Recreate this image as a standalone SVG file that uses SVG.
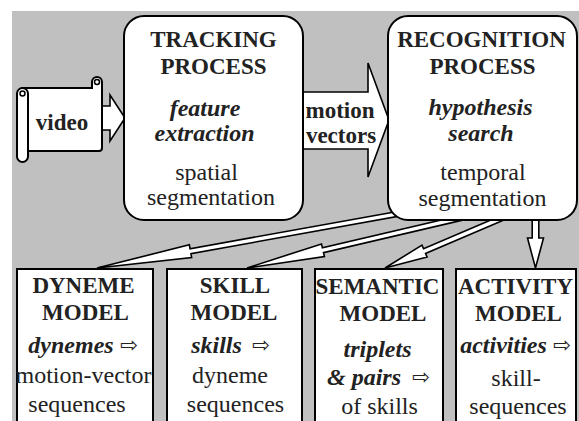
<svg xmlns="http://www.w3.org/2000/svg" width="579" height="421" viewBox="0 0 579 421">
<rect fill="#c0c0c0" x="12" y="11" width="567" height="410"/>
<g id="connectors">
<g fill="#fff" stroke="#000" stroke-width="1.6">
<polygon points="102,106 110,106 110,95 125,118 110,141 110,130 102,130"/>
<polygon points="303,92 368,92 368,63 389,120 368,177 368,149 303,149"/>
<polygon points="401.4,210.7 190.06,248.74 189.35,244.8 97,268 191.65,257.6 190.94,253.66 402.3,215.6"/>
<polygon points="466.9,214 322.38,247.81 321.47,243.91 247,268 324.43,256.57 323.52,252.67 468.1,218.8"/>
<polygon points="507.8,212.8 423.56,248.8 421.99,245.12 385,268 427.09,257.08 425.52,253.4 509.8,217.4"/>
<polygon points="532.2,210 532.2,238 527.5,238 535.5,268 543.5,238 538.8,238 538.8,210"/>
</g>
<g font-family="Liberation Serif, serif" fill="#222" text-anchor="middle" font-weight="bold" font-size="23">
<text x="340" y="118">motion</text>
<text x="341" y="143">vectors</text>
</g>
</g>
<g id="video">
<g fill="#fff" stroke="#000" stroke-width="2">
<path d="M22,88 H92 V82 A5,5 0 0 1 102,82 V148 Q102,151 99,151 H22 Z"/>
<circle cx="97" cy="82" r="2.5" fill="none" stroke-width="1.5"/>
<rect x="17" y="88" width="11" height="74" rx="5.5"/>
<circle cx="22.5" cy="93.5" r="2.5" fill="none" stroke-width="1.5"/>
</g>
<text font-family="Liberation Serif, serif" fill="#222" text-anchor="middle" font-weight="bold" font-size="23" x="62" y="130">video</text>
</g>
<g id="tracking" font-family="Liberation Serif, serif" fill="#222" text-anchor="middle">
<rect fill="#fff" stroke="#000" stroke-width="2" x="124" y="16" width="179" height="204" rx="20"/>
<text font-weight="bold" font-size="23" x="213.5" y="47">TRACKING</text>
<text font-weight="bold" font-size="23" x="213.5" y="74">PROCESS</text>
<text font-weight="bold" font-style="italic" font-size="24" x="205" y="116">feature</text>
<text font-weight="bold" font-style="italic" font-size="24" x="204.5" y="141">extraction</text>
<text font-size="24" x="206.5" y="180">spatial</text>
<text font-size="24" x="211" y="205">segmentation</text>
</g>
<g id="recognition" font-family="Liberation Serif, serif" fill="#222" text-anchor="middle">
<rect fill="#fff" stroke="#000" stroke-width="2" x="388" y="16" width="189" height="204" rx="20"/>
<text font-weight="bold" font-size="23" x="481.5" y="47">RECOGNITION</text>
<text font-weight="bold" font-size="23" x="482.5" y="74">PROCESS</text>
<text font-weight="bold" font-style="italic" font-size="24" x="480.5" y="115">hypothesis</text>
<text font-weight="bold" font-style="italic" font-size="24" x="481" y="141">search</text>
<text font-size="24" x="483" y="180">temporal</text>
<text font-size="24" x="482.5" y="206">segmentation</text>
</g>
<g id="dyneme" font-family="Liberation Serif, serif" fill="#222" text-anchor="middle">
<rect fill="#fff" stroke="#000" stroke-width="2" x="17" y="269" width="136" height="170"/>
<text font-weight="bold" font-size="23" x="83.5" y="293">DYNEME</text>
<text font-weight="bold" font-size="23" x="85.5" y="320">MODEL</text>
<text font-weight="bold" font-style="italic" font-size="24" x="71" y="353">dynemes</text>
<text font-family="DejaVu Sans, sans-serif" font-size="21" text-anchor="start" x="120" y="352">⇨</text>
<text font-size="24" x="83.5" y="383">motion-vector</text>
<text font-size="24" x="77" y="412">sequences</text>
</g>
<g id="skill" font-family="Liberation Serif, serif" fill="#222" text-anchor="middle">
<rect fill="#fff" stroke="#000" stroke-width="2" x="167" y="269" width="135" height="170"/>
<text font-weight="bold" font-size="23" x="235" y="293">SKILL</text>
<text font-weight="bold" font-size="23" x="234" y="320">MODEL</text>
<text font-weight="bold" font-style="italic" font-size="24" x="216.5" y="353">skills</text>
<text font-family="DejaVu Sans, sans-serif" font-size="21" text-anchor="start" x="252" y="352">⇨</text>
<text font-size="24" x="230" y="383">dyneme</text>
<text font-size="24" x="235.5" y="412">sequences</text>
</g>
<g id="semantic" font-family="Liberation Serif, serif" fill="#222" text-anchor="middle">
<rect fill="#fff" stroke="#000" stroke-width="2" x="315" y="269" width="128" height="170"/>
<text font-weight="bold" font-size="23" x="377.5" y="294">SEMANTIC</text>
<text font-weight="bold" font-size="23" x="383" y="321">MODEL</text>
<text font-weight="bold" font-style="italic" font-size="24" x="377.5" y="357">triplets</text>
<text font-weight="bold" font-style="italic" font-size="24" x="364" y="385">&amp; pairs</text>
<text font-family="DejaVu Sans, sans-serif" font-size="21" text-anchor="start" x="412" y="384">⇨</text>
<text font-size="24" x="379.5" y="414">of skills</text>
</g>
<g id="activity" font-family="Liberation Serif, serif" fill="#222" text-anchor="middle">
<rect fill="#fff" stroke="#000" stroke-width="2" x="456" y="269" width="120" height="170"/>
<text font-weight="bold" font-size="23" x="515.5" y="294">ACTIVITY</text>
<text font-weight="bold" font-size="23" x="518.5" y="321">MODEL</text>
<text font-weight="bold" font-style="italic" font-size="24" x="503.5" y="353">activities</text>
<text font-family="DejaVu Sans, sans-serif" font-size="21" text-anchor="start" x="553" y="352">⇨</text>
<text font-size="24" x="516" y="386">skill-</text>
<text font-size="24" x="518" y="414">sequences</text>
</g>
</svg>
